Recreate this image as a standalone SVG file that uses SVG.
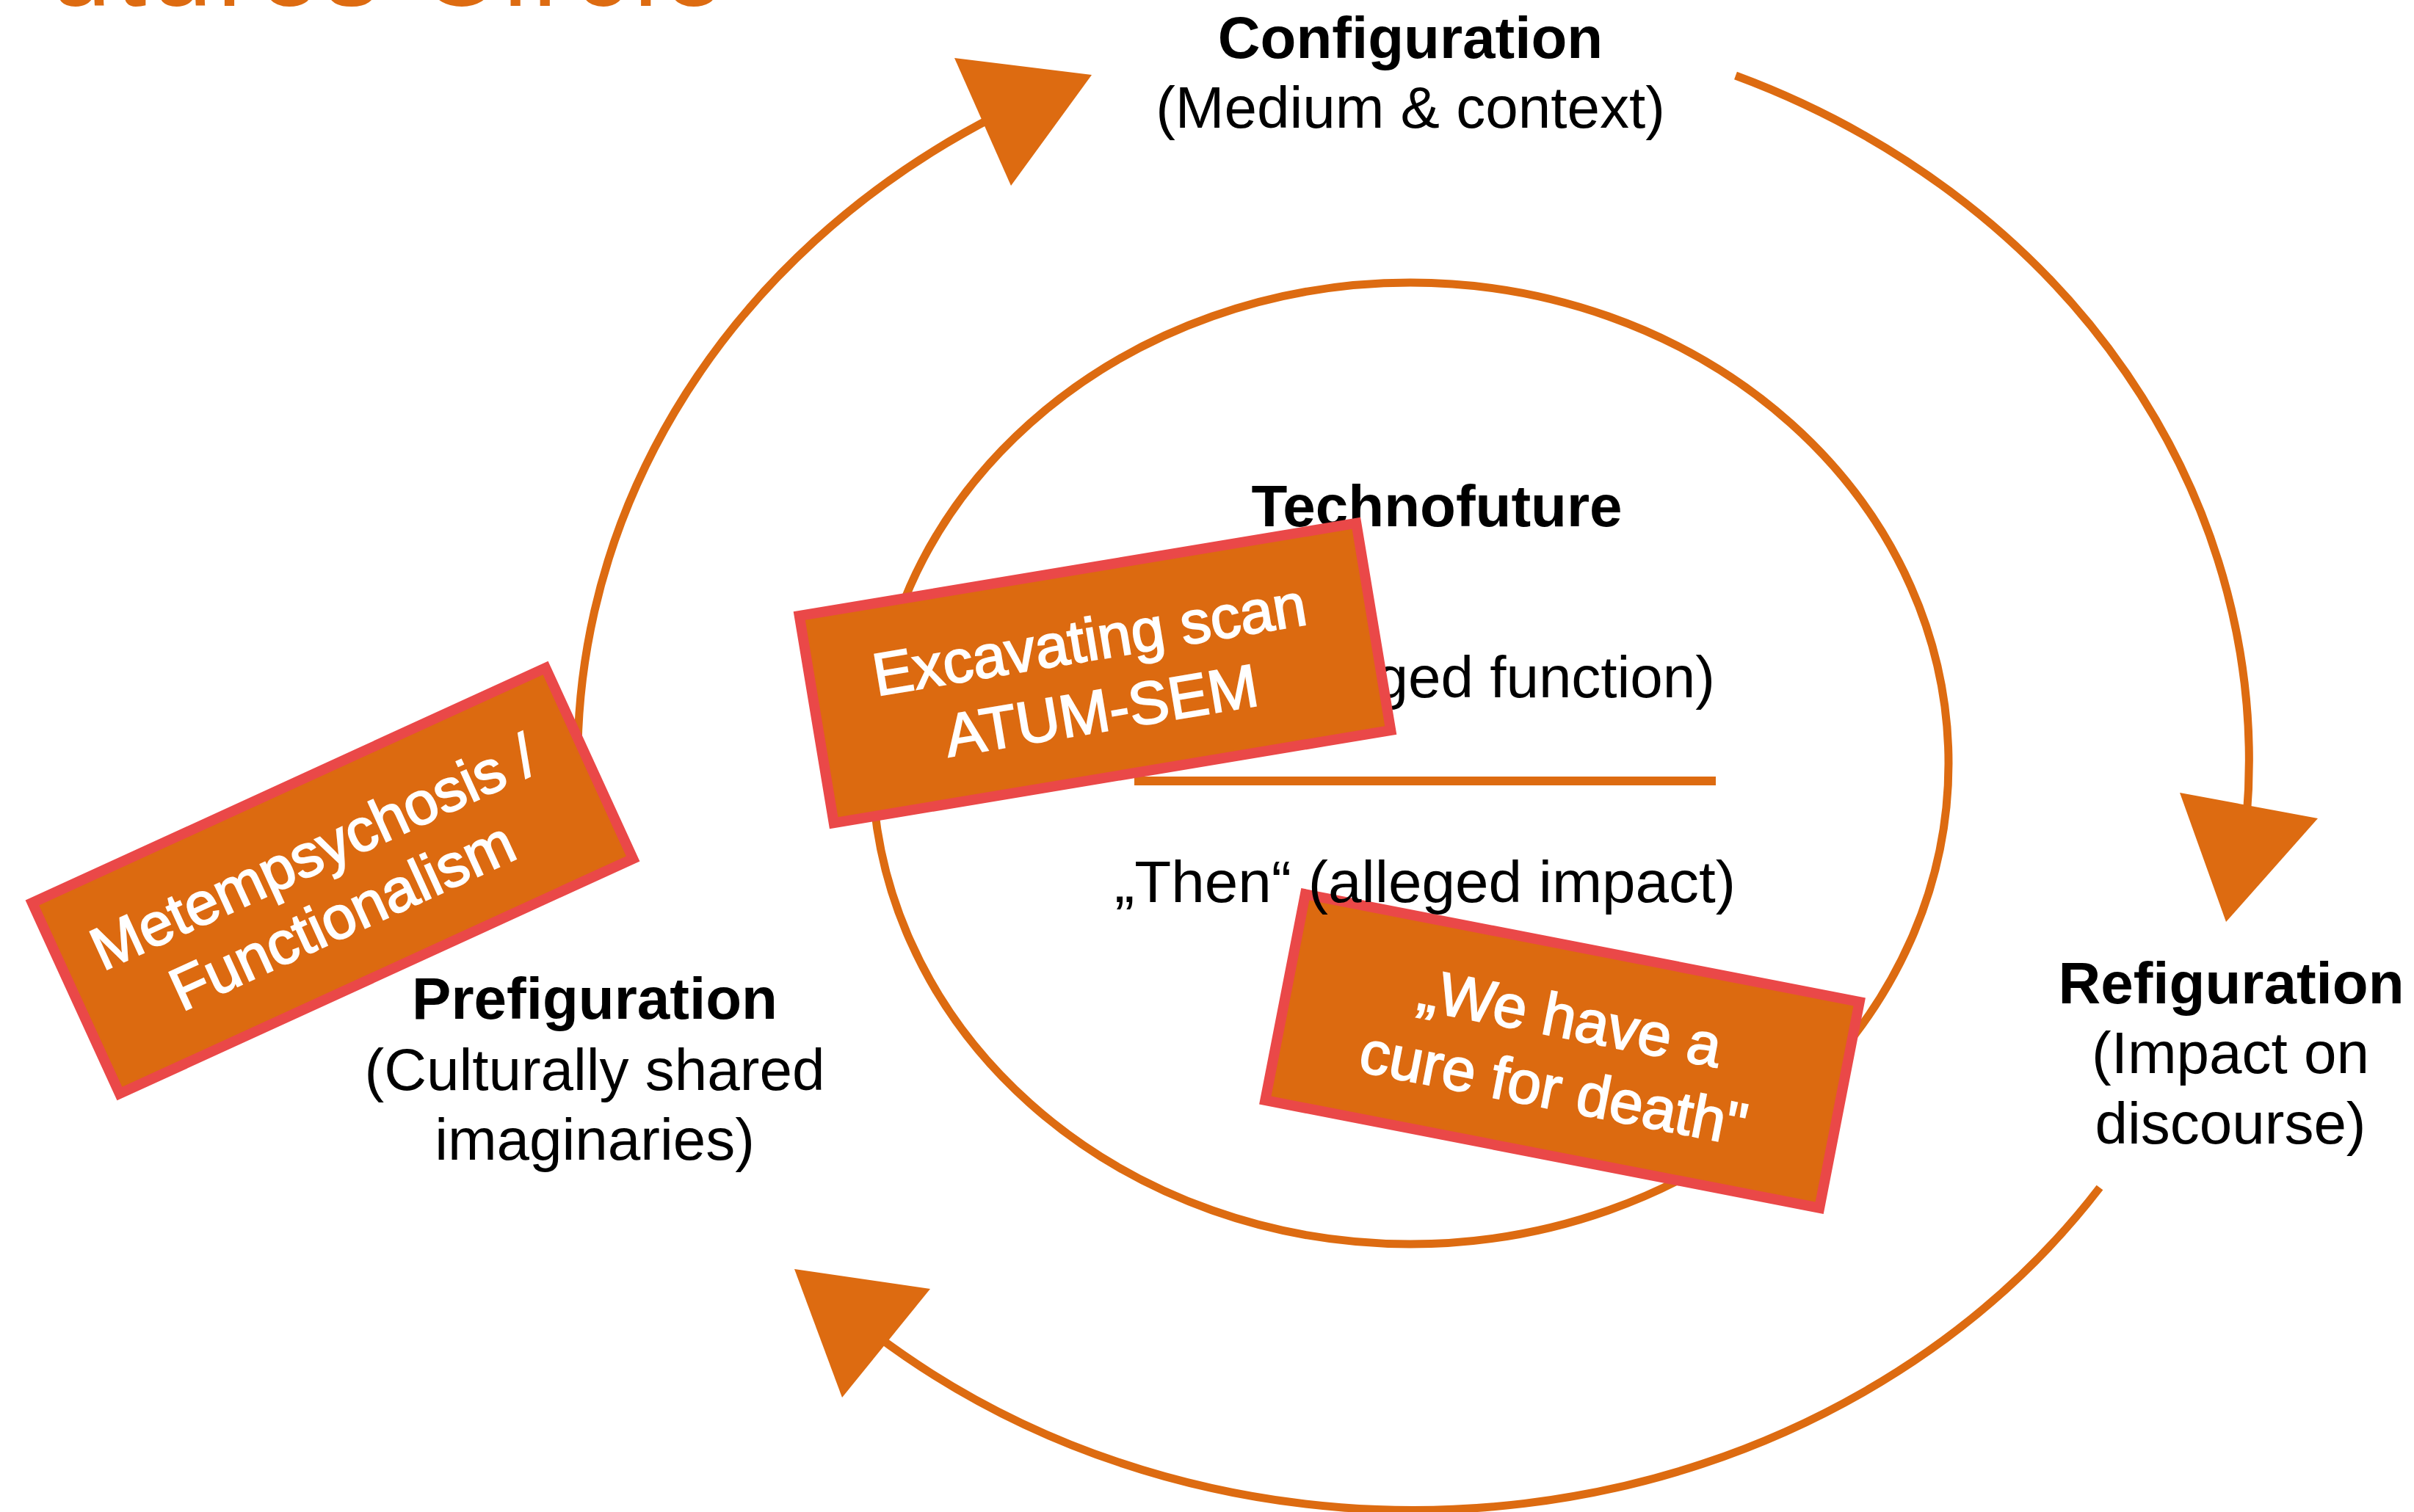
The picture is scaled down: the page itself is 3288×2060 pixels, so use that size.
<svg xmlns="http://www.w3.org/2000/svg" width="3288" height="2060" viewBox="0 0 3288 2060">
<style>
.bg{fill:#ffffff}
.ring{fill:none;stroke:#DD6B11;stroke-width:11}
.arc{fill:none;stroke:#DD6B11;stroke-width:11}
.sep{stroke:#DD6B11;stroke-width:12}
.head{fill:#DD6B11}
.t{font-family:"Liberation Sans",Arial,sans-serif;font-size:80px;fill:#000;text-anchor:middle}
.b{font-weight:bold}
.title{font-family:"Liberation Sans",Arial,sans-serif;font-size:150px;fill:#DD6B11}
.box rect{fill:#DC6A10;stroke:#EA4848;stroke-width:14}
.box text{font-family:"Liberation Sans",Arial,sans-serif;font-size:82px;fill:#fff;stroke:#fff;stroke-width:2px;text-anchor:middle}
</style>
<rect class="bg" x="0" y="0" width="3288" height="2060"/>
<text class="title" x="-30" y="8" textLength="1016" lengthAdjust="spacing">Futures Circle</text>
<g id="technofuture-ring">
<ellipse class="ring" cx="1921" cy="1040" rx="733" ry="655"/>
<line class="sep" x1="1545" y1="1064" x2="2337" y2="1064"/>
</g>
<g id="connectors">
<path class="arc" d="M790 1110 A1134 1011 0 0 1 1356 158"/>
<polygon class="head" points="1300,79 1487,102 1377,253"/>
<path class="arc" d="M2364 103 A1134 1011 0 0 1 3060 1114"/>
<polygon class="head" points="2969,1080 3157,1115 3032,1256"/>
<path class="arc" d="M2860 1618 A1134 1011 0 0 1 1193 1819"/>
<polygon class="head" points="1082,1729 1267,1756 1147,1904"/>
</g>
<g id="configuration">
<text class="t b" x="1921" y="79">Configuration</text>
<text class="t" x="1921" y="174">(Medium &amp; context)</text>
</g>
<g id="prefiguration">
<text class="t b" x="810" y="1388">Prefiguration</text>
<text class="t" x="810" y="1485">(Culturally shared</text>
<text class="t" x="810" y="1580">imaginaries)</text>
</g>
<g id="refiguration">
<text class="t b" x="3039" y="1367">Refiguration</text>
<text class="t" x="3038" y="1462">(Impact on</text>
<text class="t" x="3038" y="1558">discourse)</text>
</g>
<g id="technofuture">
<text class="t b" x="1957" y="717">Technofuture</text>
<text class="t" x="2336" y="950" style="text-anchor:end">ged function)</text>
</g>
<g id="box-metempsychosis" class="box" transform="translate(453,1200) rotate(-24.6)">
<rect x="-384.5" y="-143" width="769" height="286"/>
<text x="-8" y="-18">Metempsychosis /</text>
<text x="-8" y="77">Functionalism</text>
</g>
<g id="box-excavating" class="box" transform="translate(1491.5,917) rotate(-9.45)">
<rect x="-384.5" y="-143" width="769" height="286"/>
<text x="0" y="-18">Excavating scan</text>
<text x="0" y="80">ATUM-SEM</text>
</g>
<g id="box-cure" class="box" transform="translate(2128,1432) rotate(11)">
<rect x="-384.5" y="-143" width="769" height="286"/>
<text x="2" y="-18">„We have a</text>
<text x="-2" y="80">cure for death"</text>
</g>
<g id="then">
<text class="t" x="1941" y="1229" textLength="846" lengthAdjust="spacingAndGlyphs">„Then“ (alleged impact)</text>
</g>
</svg>
